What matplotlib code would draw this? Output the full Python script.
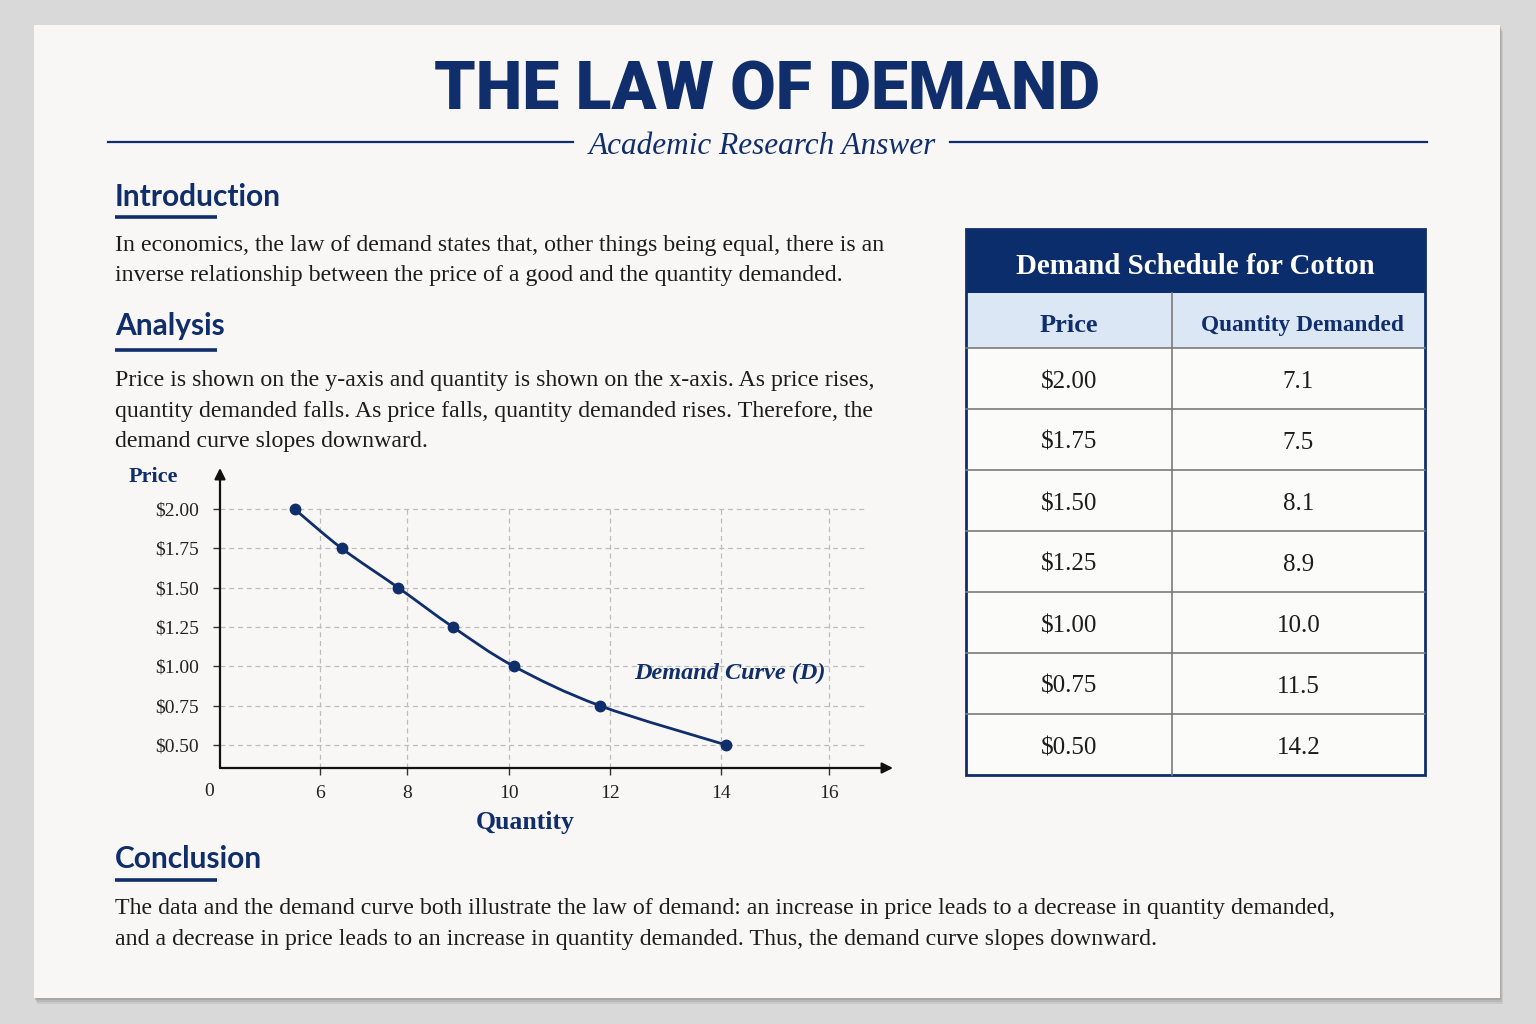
import matplotlib
matplotlib.use("Agg")
import matplotlib.pyplot as plt
from matplotlib.patches import Rectangle, PathPatch
from matplotlib.path import Path
import numpy as np

# ---------------- data ----------------
curve_qty = [5.5, 6.5, 7.8, 8.9, 10.1, 11.8, 14.1]
curve_price = [2.00, 1.75, 1.50, 1.25, 1.00, 0.75, 0.50]
qty_ticks = [6, 8, 10, 12, 14, 16]
price_ticks = [0.50, 0.75, 1.00, 1.25, 1.50, 1.75, 2.00]
price_tick_labels = ["$0.50", "$0.75", "$1.00", "$1.25", "$1.50", "$1.75", "$2.00"]

table_title = "Demand Schedule for Cotton"
table_headers = ["Price", "Quantity Demanded"]
table_prices = ["$2.00", "$1.75", "$1.50", "$1.25", "$1.00", "$0.75", "$0.50"]
table_qty = ["7.1", "7.5", "8.1", "8.9", "10.0", "11.5", "14.2"]

title = "THE LAW OF DEMAND"
subtitle = "Academic Research Answer"
intro_lines = ["In economics, the law of demand states that, other things being equal, there is an",
               "inverse relationship between the price of a good and the quantity demanded."]
analysis_lines = ["Price is shown on the y-axis and quantity is shown on the x-axis. As price rises,",
                  "quantity demanded falls. As price falls, quantity demanded rises. Therefore, the",
                  "demand curve slopes downward."]
conclusion_lines = ["The data and the demand curve both illustrate the law of demand: an increase in price leads to a decrease in quantity demanded,",
                    "and a decrease in price leads to an increase in quantity demanded. Thus, the demand curve slopes downward."]

NAVY = "#0f2e6b"
TEXT = "#1c1c1c"
SERIF = ["Liberation Serif", "DejaVu Serif"]
SANS = ["Lato", "DejaVu Sans"]

W, H = 1536, 1024
fig = plt.figure(figsize=(W / 100, H / 100), dpi=100)
fig.patch.set_facecolor("#d9d9d9")

bg = fig.add_axes([0, 0, 1, 1])
bg.set_xlim(0, W)
bg.set_ylim(H, 0)
bg.axis("off")
bg.set_zorder(0)

# card with shadow
for off, a in [(6, 0.25), (4, 0.35), (2, 0.5)]:
    bg.add_patch(Rectangle((34 + off / 2, 25 + off), 1466, 973, facecolor="#9a9a9a",
                           edgecolor="none", alpha=a))
bg.add_patch(Rectangle((34, 25), 1466, 973, facecolor="#f8f7f5", edgecolor="none"))

# title
bg.text(767, 92, title, ha="center", va="center", fontsize=47.5, fontweight="heavy",
        color=NAVY, family=["Roboto", "DejaVu Sans"])
bg.plot([108, 573], [142, 142], color=NAVY, lw=1.6)
bg.plot([950, 1427], [142, 142], color=NAVY, lw=1.6)
bg.text(762, 143, subtitle, ha="center", va="center_baseline", fontsize=22.5, style="italic",
        color=NAVY, family=SERIF)

# section headings
def heading(txt, y, uy):
    bg.text(115, y, txt, ha="left", va="center_baseline", fontsize=21.5, fontweight="bold",
            color=NAVY, family=SANS)
    bg.plot([115, 217], [uy, uy], color=NAVY, lw=2.6, solid_capstyle="butt")

def para(lines, y0, step=30.5):
    for i, ln in enumerate(lines):
        bg.text(115, y0 + i * step, ln, ha="left", va="center_baseline", fontsize=17.2,
                color=TEXT, family=SERIF)

heading("Introduction", 194, 217)
para(intro_lines, 243)
heading("Analysis", 324, 350)
para(analysis_lines, 378)
heading("Conclusion", 857, 880)
para(conclusion_lines, 906)

# ---------------- table ----------------
tx0, tx1, txm = 966, 1425, 1172
ty_title0, ty_head0, ty_rows0, row_h = 229, 293, 348, 61
ty_end = ty_rows0 + row_h * len(table_prices)
bg.add_patch(Rectangle((tx0, ty_title0), tx1 - tx0, ty_head0 - ty_title0, facecolor="#0b2d6b",
                       edgecolor="none"))
bg.add_patch(Rectangle((tx0, ty_head0), tx1 - tx0, ty_rows0 - ty_head0, facecolor="#dce7f6",
                       edgecolor="none"))
bg.add_patch(Rectangle((tx0, ty_rows0), tx1 - tx0, ty_end - ty_rows0, facecolor="#fbfbfa",
                       edgecolor="none"))
bg.text((tx0 + tx1) / 2, 264, table_title, ha="center", va="center_baseline",
        fontsize=20.8, fontweight="bold", color="white", family=SERIF)
c1 = (tx0 + txm) / 2
c2 = (txm + tx1) / 2
bg.text(c1, 323, table_headers[0], ha="center", va="center_baseline", fontsize=19,
        fontweight="bold", color=NAVY, family=SERIF)
bg.text(c2 + 4, 323, table_headers[1], ha="center", va="center_baseline", fontsize=16.8,
        fontweight="bold", color=NAVY, family=SERIF)
for i, (p, q) in enumerate(zip(table_prices, table_qty)):
    yc = ty_rows0 + row_h * i + row_h / 2 + 1
    bg.text(c1, yc, p, ha="center", va="center_baseline", fontsize=18, color=TEXT, family=SERIF)
    bg.text(c2, yc, q, ha="center", va="center_baseline", fontsize=18, color=TEXT, family=SERIF)
    bg.plot([tx0, tx1], [ty_rows0 + row_h * i] * 2, color="#7a7a7a", lw=1.2)
bg.plot([txm, txm], [ty_head0, ty_end], color="#7a7a7a", lw=1.2)
bg.add_patch(Rectangle((tx0, ty_title0), tx1 - tx0, ty_end - ty_title0, facecolor="none",
                       edgecolor=NAVY, lw=2))

# ---------------- chart ----------------
ax_l, ax_r, ax_t, ax_b = 220, 893, 468, 768
ax = fig.add_axes([ax_l / W, (H - ax_b) / H, (ax_r - ax_l) / W, (ax_b - ax_t) / H])
ax.set_zorder(2)
ax.patch.set_alpha(0)
xmin, xmax = 4.035, 17.26
ymin, ymax = 0.354, 2.261

# piecewise-linear quantity axis (the source draws the ticks unevenly spaced)
scale_vals = [xmin, 6, 8, 10, 12, 14, 16, xmax]
scale_pix = [220, 320, 407, 509, 610, 721, 829, 893]

def fwd(x):
    return np.interp(x, scale_vals, scale_pix)

def inv(p):
    return np.interp(p, scale_pix, scale_vals)

ax.set_xscale("function", functions=(fwd, inv))
ax.set_xlim(xmin, xmax)
ax.set_ylim(ymin, ymax)
for s in ax.spines.values():
    s.set_visible(False)

grid_kw = dict(color="#bdbdbd", lw=0.9, linestyles=(0, (4, 3)), zorder=1)
ax.hlines(price_ticks, xmin, inv(865), **grid_kw)
ax.vlines(qty_ticks, ymin, 2.0, **grid_kw)

ax.set_xticks(qty_ticks)
ax.set_xticklabels([str(t) for t in qty_ticks], family=SERIF, fontsize=14, color="#222")
ax.set_yticks(price_ticks)
ax.set_yticklabels(price_tick_labels, family=SERIF, fontsize=14, color="#222")
ax.xaxis.set_minor_locator(matplotlib.ticker.NullLocator())
ax.tick_params(axis="x", direction="out", length=5, width=1, color="#333", pad=7)
ax.tick_params(axis="y", direction="out", length=5, width=1, color="#333", pad=10)

arrow_kw = dict(arrowstyle="-|>", color="#111", lw=1.6, mutation_scale=16, shrinkA=0, shrinkB=0)
ax.annotate("", xy=(1, 0), xytext=(0, 0), xycoords="axes fraction", arrowprops=arrow_kw,
            annotation_clip=False)
ax.annotate("", xy=(0, 1), xytext=(0, 0), xycoords="axes fraction", arrowprops=arrow_kw,
            annotation_clip=False)

# smooth curve through the data points (Catmull-Rom rendered as Bezier path in display space)
disp = ax.transData.transform(np.column_stack([curve_qty, curve_price]))
verts = [tuple(disp[0])]
codes = [Path.MOVETO]
n = len(disp)
for i in range(n - 1):
    p0 = disp[i - 1] if i > 0 else disp[i]
    p1, p2 = disp[i], disp[i + 1]
    p3 = disp[i + 2] if i + 2 < n else disp[i + 1]
    verts += [tuple(p1 + (p2 - p0) / 6), tuple(p2 - (p3 - p1) / 6), tuple(p2)]
    codes += [Path.CURVE4] * 3
ax.add_patch(PathPatch(Path(verts, codes), facecolor="none", edgecolor=NAVY, lw=2, zorder=3,
                       transform=None))
ax.plot(curve_qty, curve_price, "o", color=NAVY, ms=7.5, zorder=4)

ax.text(inv(730), 0.955, "Demand Curve (D)", ha="center", va="center", fontsize=17.5,
        fontweight="bold", style="italic", color=NAVY, family=SERIF)

# axis labels / origin
bg.text(153, 477, "Price", ha="center", va="center", fontsize=16, fontweight="bold",
        color=NAVY, family=SERIF)
bg.text(525, 823, "Quantity", ha="center", va="center", fontsize=18.5, fontweight="bold",
        color=NAVY, family=SERIF)
bg.text(209, 791, "0", ha="center", va="center", fontsize=14, color="#222", family=SERIF)

fig.savefig("out.png", dpi=100, facecolor=fig.get_facecolor())
